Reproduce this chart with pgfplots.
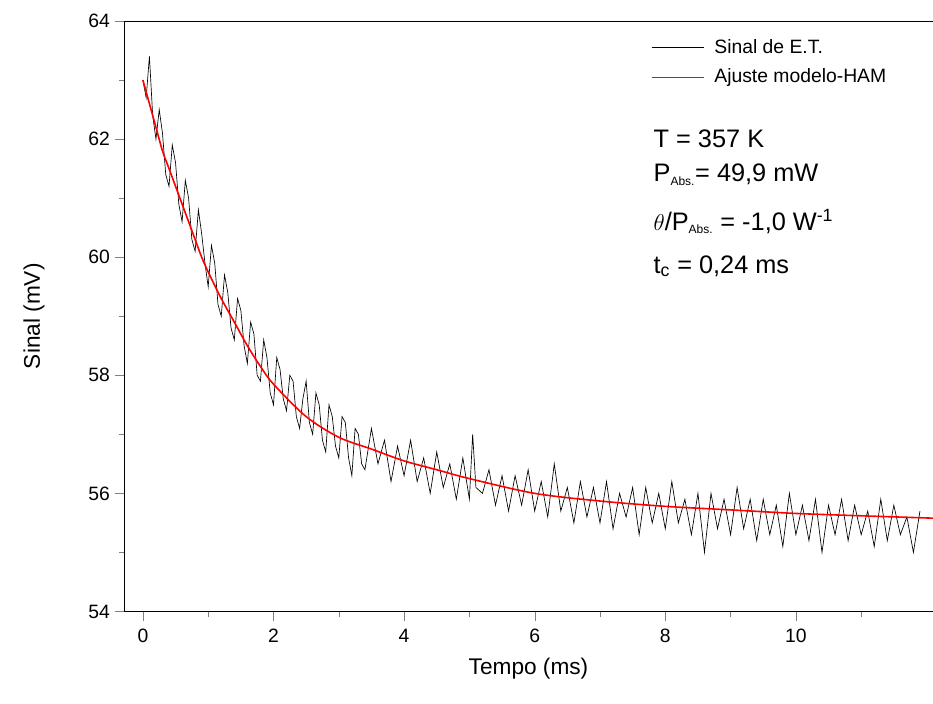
\documentclass[border=0pt]{standalone}
\usepackage{pgfplots}
\pgfplotsset{compat=1.18}
\usepackage{fontspec}
\setmainfont{Liberation Sans}
\begin{document}
\begin{tikzpicture}
\begin{axis}[name=ax,
  width=607pt, height=443pt, scale only axis,
  xmin=-0.29, xmax=12.1, ymin=54, ymax=64,
  xtick={0,2,4,6,8,10}, ytick={54,56,...,64},
  minor xtick={1,3,5,7,9,11}, minor ytick={55,57,...,63},
  tick align=outside, tick pos=left,
  major tick length=7pt, minor tick length=4pt,
  /pgf/number format/assume math mode=true,
  ticklabel style={font=\fontsize{14.5}{17}\selectfont},
  xticklabel style={yshift=-3pt},
  xlabel={Tempo (ms)}, ylabel={Sinal (mV)},
  label style={font=\fontsize{17}{20}\selectfont},
  xlabel style={yshift=-4pt}, ylabel style={yshift=26pt},
]
\addplot[black, line width=0.5pt] coordinates {
(0.0,63.0)(0.05,62.7)(0.1,63.4)(0.15,62.4)(0.2,62.0)(0.25,62.5)(0.3,62.1)(0.35,61.4)(0.4,61.2)(0.45,61.9)(0.5,61.6)(0.55,60.9)(0.6,60.6)(0.65,61.3)(0.7,61.0)(0.75,60.3)(0.8,60.1)(0.85,60.8)(0.9,60.4)(0.95,59.9)(1.0,59.5)(1.05,60.2)(1.1,59.9)(1.15,59.2)(1.2,59.0)(1.25,59.7)(1.3,59.4)(1.35,58.8)(1.4,58.6)(1.45,59.3)(1.5,59.1)(1.55,58.5)(1.6,58.2)(1.65,58.9)(1.7,58.7)(1.75,58.0)(1.8,57.9)(1.85,58.6)(1.9,58.3)(1.95,57.7)(2.0,57.5)(2.05,58.3)(2.1,58.1)(2.15,57.6)(2.2,57.4)(2.25,58.0)(2.3,57.9)(2.35,57.3)(2.4,57.1)(2.45,57.6)(2.5,57.9)(2.55,57.2)(2.6,57.0)(2.65,57.7)(2.7,57.5)(2.75,56.9)(2.8,56.7)(2.85,57.5)(2.9,57.3)(2.95,56.8)(3.0,56.6)(3.05,57.3)(3.1,57.2)(3.15,56.6)(3.2,56.3)(3.25,57.1)(3.3,57.0)(3.35,56.5)(3.4,56.4)(3.5,57.1)(3.6,56.5)(3.7,56.9)(3.8,56.2)(3.9,56.8)(4.0,56.3)(4.1,56.9)(4.2,56.2)(4.3,56.6)(4.4,56.0)(4.5,56.7)(4.6,56.1)(4.7,56.5)(4.8,55.9)(4.9,56.6)(5.0,55.9)(5.05,57.0)(5.1,56.1)(5.2,56.0)(5.3,56.4)(5.4,55.8)(5.5,56.3)(5.6,55.7)(5.7,56.3)(5.8,55.8)(5.9,56.4)(6.0,55.7)(6.1,56.2)(6.2,55.6)(6.3,56.5)(6.4,55.7)(6.5,56.1)(6.6,55.5)(6.7,56.2)(6.8,55.6)(6.9,56.1)(7.0,55.5)(7.1,56.2)(7.2,55.4)(7.3,56.0)(7.4,55.6)(7.5,56.1)(7.6,55.3)(7.7,56.1)(7.8,55.5)(7.9,56.0)(8.0,55.4)(8.1,56.2)(8.2,55.5)(8.3,55.9)(8.4,55.3)(8.5,56.0)(8.6,55.0)(8.7,56.0)(8.8,55.4)(8.9,55.9)(9.0,55.3)(9.1,56.1)(9.2,55.4)(9.3,55.9)(9.4,55.2)(9.5,55.9)(9.6,55.3)(9.7,55.8)(9.8,55.1)(9.9,56.0)(10.0,55.3)(10.1,55.8)(10.2,55.2)(10.3,55.9)(10.4,55.0)(10.5,55.8)(10.6,55.3)(10.7,55.9)(10.8,55.2)(10.9,55.8)(11.0,55.3)(11.1,55.7)(11.2,55.1)(11.3,55.9)(11.4,55.2)(11.5,55.8)(11.6,55.3)(11.7,55.6)(11.8,55.0)(11.9,55.7)
};
\addplot[red, line width=1.2pt, smooth] coordinates {
(0,63.0)(0.1,62.6)(0.2,62.2)(0.3,61.8)(0.4,61.5)(0.5,61.2)(0.6,60.9)(0.7,60.6)(0.8,60.3)(0.9,60.0)(1.0,59.75)(1.2,59.3)(1.4,58.9)(1.6,58.5)(1.8,58.15)(2.0,57.85)(2.5,57.3)(3,56.95)(3.5,56.75)(4,56.55)(4.5,56.4)(5,56.25)(6,56.0)(7,55.87)(8,55.78)(9,55.72)(10,55.66)(11,55.62)(12.1,55.58)
};
\addplot[black, line width=0.5pt] coordinates {(7.79,63.56)(8.6,63.56)};
\addplot[red, line width=1.2pt] coordinates {(7.79,63.04)(8.6,63.04)};
\node[anchor=west, font=\fontsize{14.5}{17}\selectfont] at (axis cs:8.68,63.56) {Sinal de E.T.};
\node[anchor=west, font=\fontsize{14.5}{17}\selectfont] at (axis cs:8.68,63.04) {Ajuste modelo-HAM};
\node[anchor=west, font=\fontsize{19}{22}\selectfont] at (axis cs:7.75,62.0) {T = 357 K};
\node[anchor=west, font=\fontsize{19}{22}\selectfont] at (axis cs:7.75,61.4) {P\textsubscript{\fontsize{9}{10}\selectfont Abs.}= 49,9 mW};
\node[anchor=west, font=\fontsize{19}{22}\selectfont] at (axis cs:7.75,60.6) {$\theta$/P\textsubscript{\fontsize{9}{10}\selectfont Abs.} = -1,0 W\textsuperscript{-1}};
\node[anchor=west, font=\fontsize{19}{22}\selectfont] at (axis cs:7.75,59.85) {t\textsubscript{c} = 0,24 ms};
\end{axis}
\pgfresetboundingbox
\path ([xshift=-93pt,yshift=-69pt]ax.south west) rectangle ([yshift=15.75pt]ax.north east);
\end{tikzpicture}
\end{document}
